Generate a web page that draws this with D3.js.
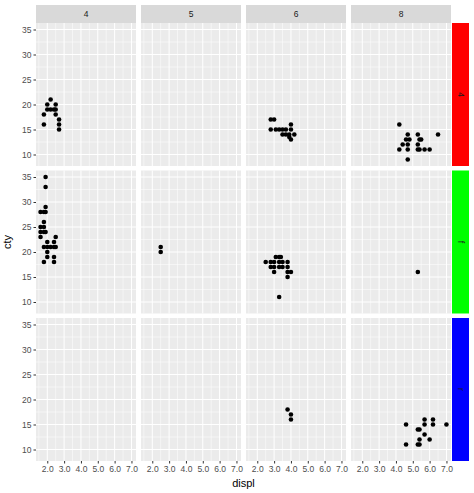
<!DOCTYPE html>
<html><head><meta charset="utf-8">
<script src="https://cdn.jsdelivr.net/npm/d3@7"></script>
<style>body{margin:0;background:#fff}</style>
</head><body><div id="chart"></div>
<script>
// facet columns (cyl) and rows (drv)
const cyls = ["4", "5", "6", "8"];
const drvs = ["4", "f", "r"];
const drvColors = ["#FF0000", "#00FF00", "#0000FF"];
const xTicks = [2, 3, 4, 5, 6, 7];
const yTicks = [10, 15, 20, 25, 30, 35];

// [drv, cyl, displ, cty]
const points = [
  ["4","4",1.8,16],["4","4",1.8,18],["4","4",2.0,19],["4","4",2.0,20],["4","4",2.2,21],["4","4",2.2,19],
  ["4","4",2.4,19],["4","4",2.5,20],["4","4",2.5,19],["4","4",2.5,18],["4","4",2.7,17],["4","4",2.7,16],["4","4",2.7,15],
  ["4","6",2.8,17],["4","6",3.0,17],["4","6",2.8,15],["4","6",3.1,15],["4","6",3.3,15],["4","6",3.5,15],["4","6",3.7,15],
  ["4","6",4.0,15],["4","6",4.0,16],["4","6",3.5,14],["4","6",3.7,14],["4","6",3.9,14],["4","6",4.2,14],["4","6",4.0,13],["4","6",3.9,13.5],
  ["4","8",4.2,16],["4","8",4.7,14],["4","8",5.3,14],["4","8",6.5,14],["4","8",4.6,13],["4","8",4.8,13],["4","8",5.4,13],["4","8",5.5,13],
  ["4","8",4.4,12],["4","8",4.7,12],["4","8",5.3,12],["4","8",4.2,11],["4","8",4.7,11],["4","8",5.3,11],["4","8",5.4,11],
  ["4","8",5.7,11],["4","8",6.0,11],["4","8",4.7,9],
  ["f","4",1.9,35],["f","4",1.9,33],["f","4",1.9,29],["f","4",1.6,28],["f","4",1.8,28],["f","4",1.9,28],["f","4",1.8,26],
  ["f","4",1.6,25],["f","4",1.8,25],["f","4",1.6,24],["f","4",1.8,24],["f","4",1.9,24],["f","4",1.6,23],["f","4",2.0,22],
  ["f","4",2.4,22],["f","4",1.8,21],["f","4",2.0,21],["f","4",2.2,21],["f","4",2.4,21],["f","4",2.5,21],["f","4",2.0,20],
  ["f","4",2.0,19],["f","4",2.4,19],["f","4",1.8,18],["f","4",2.4,18],["f","4",2.5,23],
  ["f","5",2.5,20],["f","5",2.5,21],
  ["f","6",2.5,18],["f","6",2.8,18],["f","6",3.0,18],["f","6",3.3,18],["f","6",3.5,18],["f","6",3.8,18],["f","6",3.1,19],["f","6",3.3,19],
  ["f","6",3.4,19],["f","6",2.8,17],["f","6",3.0,17],["f","6",3.3,17],["f","6",3.5,17],["f","6",3.8,17],["f","6",3.0,16],
  ["f","6",3.8,16],["f","6",4.0,16],["f","6",3.8,15],["f","6",3.3,11],
  ["f","8",5.3,16],
  ["r","6",3.8,18],["r","6",4.0,17],["r","6",4.0,16],
  ["r","8",4.6,15],["r","8",4.6,11],["r","8",5.3,14],["r","8",5.4,14],["r","8",5.7,16],["r","8",6.2,16],["r","8",5.7,15],
  ["r","8",6.2,15],["r","8",7.0,15],["r","8",5.7,13],["r","8",6.0,12],["r","8",5.4,12],["r","8",5.3,11],["r","8",5.4,11]
];

const W = 474, H = 493;
const leftX = 36, panelW = 100, gapX = 5, topY = 23, stripH = 18, panelH = 143, gapY = 4.5, stripW = 17;
const svg = d3.select("#chart").append("svg").attr("width", W).attr("height", H)
  .style("font-family", "Liberation Sans, Arial, sans-serif");

const x = d3.scaleLinear().domain([1.33, 7.27]).range([0, panelW]);
const y = d3.scaleLinear().domain([7.7, 36.3]).range([panelH, 0]);

cyls.forEach((c, ci) => {
  const px = leftX + ci * (panelW + gapX);
  svg.append("rect").attr("x", px).attr("y", topY - stripH).attr("width", panelW).attr("height", stripH).attr("fill", "#D9D9D9");
  svg.append("text").attr("x", px + panelW / 2).attr("y", topY - stripH / 2 + 3).attr("text-anchor", "middle")
    .attr("font-size", 8.5).attr("fill", "#1A1A1A").text(c);
  drvs.forEach((d, di) => {
    const py = topY + di * (panelH + gapY);
    const g = svg.append("g").attr("transform", `translate(${px},${py})`);
    g.append("rect").attr("width", panelW).attr("height", panelH).attr("fill", "#EBEBEB");
    const xmin = d3.range(1.5, 7.3, 1), ymin = d3.range(7.5, 36, 5);
    g.selectAll(".xm").data(xmin).join("line").attr("x1", x).attr("x2", x).attr("y1", 0).attr("y2", panelH).attr("stroke", "#fff").attr("stroke-width", 0.5);
    g.selectAll(".ym").data(ymin).join("line").attr("y1", y).attr("y2", y).attr("x1", 0).attr("x2", panelW).attr("stroke", "#fff").attr("stroke-width", 0.5);
    g.selectAll(".xM").data(xTicks).join("line").attr("x1", x).attr("x2", x).attr("y1", 0).attr("y2", panelH).attr("stroke", "#fff").attr("stroke-width", 1);
    g.selectAll(".yM").data(yTicks).join("line").attr("y1", y).attr("y2", y).attr("x1", 0).attr("x2", panelW).attr("stroke", "#fff").attr("stroke-width", 1);
    g.selectAll("circle").data(points.filter(p => p[0] === d && p[1] === c)).join("circle")
      .attr("cx", p => x(p[2])).attr("cy", p => y(p[3])).attr("r", 2.3).attr("fill", "#000");
    if (ci === 0) {
      const ay = g.append("g").call(d3.axisLeft(y).tickValues(yTicks).tickSize(2.5).tickPadding(2));
      ay.select(".domain").remove();
      ay.selectAll("line").attr("stroke", "#333");
      ay.selectAll("text").attr("fill", "#4D4D4D").attr("font-size", 8.5).attr("font-family", null);
    }
    if (di === drvs.length - 1) {
      const ax = g.append("g").attr("transform", `translate(0,${panelH})`).call(d3.axisBottom(x).tickValues(xTicks).tickSize(2.5).tickPadding(2));
      ax.select(".domain").remove();
      ax.selectAll("line").attr("stroke", "#333");
      ax.selectAll("text").attr("fill", "#4D4D4D").attr("font-size", 8.5).attr("font-family", null);
    }
    if (ci === cyls.length - 1) {
      const sx = px + panelW + 1;
      svg.append("rect").attr("x", sx).attr("y", py).attr("width", stripW).attr("height", panelH).attr("fill", drvColors[di]);
      svg.append("text").attr("transform", `translate(${sx + stripW / 2 - 3},${py + panelH / 2}) rotate(90)`)
        .attr("text-anchor", "middle").attr("font-size", 8.5).attr("fill", "#1A1A1A").text(d);
    }
  });
});

const plotBottom = topY + 3 * panelH + 2 * gapY;
svg.append("text").attr("x", leftX + (4 * panelW + 3 * gapX) / 2).attr("y", plotBottom + 26).attr("text-anchor", "middle")
  .attr("font-size", 11).attr("fill", "#000").text("displ");
svg.append("text").attr("transform", `translate(11,${topY + (plotBottom - topY) / 2}) rotate(-90)`).attr("text-anchor", "middle")
  .attr("font-size", 11).attr("fill", "#000").text("cty");
</script></body></html>
